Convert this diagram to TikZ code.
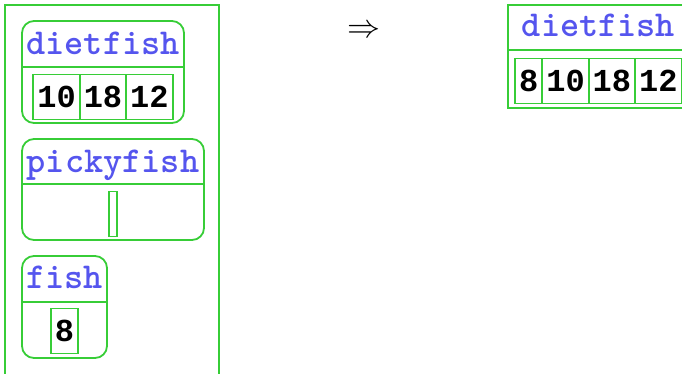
\documentclass[tikz,border=0pt]{standalone}
\usepackage{fontspec}
\newfontfamily\cellfont{Liberation Mono}
\usetikzlibrary{positioning}
\definecolor{boxgreen}{RGB}{55,205,55}
\definecolor{nameblue}{RGB}{85,85,238}
\tikzset{
  frame/.style={draw=boxgreen, line width=1.8pt},
  title/.style={anchor=base, text=nameblue, inner sep=0pt,
    font=\ttfamily\bfseries\fontsize{36.5}{40}\selectfont},
  cell/.style={draw=boxgreen, line width=1.8pt, outer sep=0pt,
    inner xsep=4pt, inner ysep=0pt, minimum height=45pt,
    text height=20pt, text depth=0pt,
    font=\cellfont\bfseries\fontsize{32}{36}\selectfont}
}

\begin{document}
\begin{tikzpicture}[x=1pt, y=-1pt]
    \useasboundingbox (0,0) rectangle (682,373);
    \clip (0,0) rectangle (682,373);

    % Left frame
    \draw[frame] (5,5) rectangle (219,390);

    % dietfish
    \draw[frame, rounded corners=12pt] (22,21) rectangle (184,123);
    \draw[frame] (22,67) -- (184,67);
    \node[title] (dietname) at (103,54) {dietfish};
    \node[cell] (d2) at (103,97) {18};
    \node[cell, left=0pt of d2] (d1) {10};
    \node[cell, right=0pt of d2] (d3) {12};

    % pickyfish
    \draw[frame, rounded corners=12pt] (22,139) rectangle (204,240);
    \draw[frame] (22,184) -- (204,184);
    \node[title] (pickyname) at (113,172) {pickyfish};
    \node[cell] (p1) at (113,214) {};

    % fish
    \draw[frame, rounded corners=12pt] (22,256) rectangle (107,358);
    \draw[frame] (22,302) -- (107,302);
    \node[title] (fishname) at (64.5,288) {fish};
    \node[cell] (f1) at (64.5,331) {8};

    % Arrow
    \node[scale=3.3] (goes) at (363.5,31) {$\Rightarrow$};

    % Result
    \draw[frame] (508,5) rectangle (689,108);
    \draw[frame] (508,50) -- (689,50);
    \node[title] (resname) at (598.5,36) {dietfish};
    \node[cell] (r2) at (565.5,81) {10};
    \node[cell, left=0pt of r2] (r1) {8};
    \node[cell, right=0pt of r2] (r3) {18};
    \node[cell, right=0pt of r3] (r4) {12};
\end{tikzpicture}
\end{document}
